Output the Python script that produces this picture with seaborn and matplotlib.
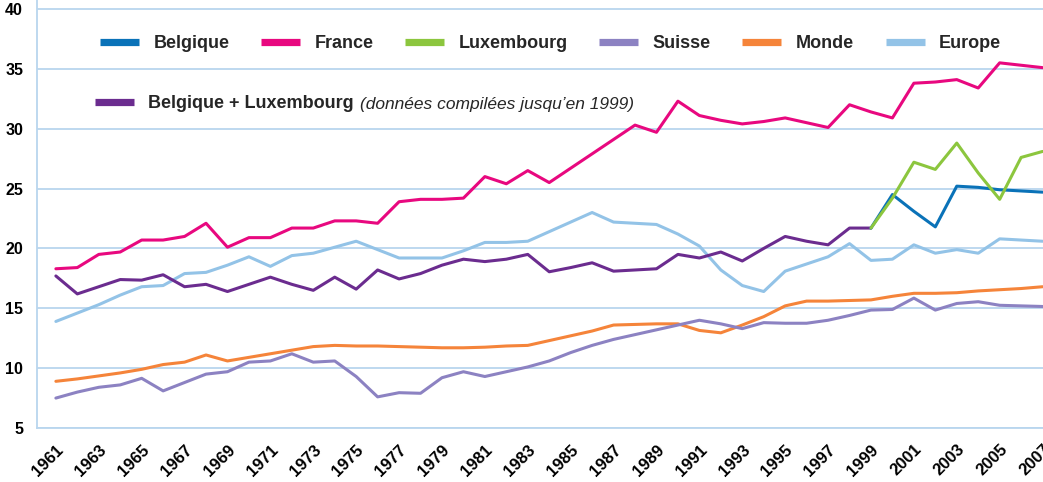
import numpy as np
import pandas as pd
import matplotlib
matplotlib.use("Agg")
import matplotlib.pyplot as plt
import seaborn as sns
from matplotlib.lines import Line2D
from matplotlib.font_manager import FontProperties

# ---------------- data ----------------
years = list(range(1961, 2008))
france = [18.3, 18.4, 19.5, 19.7, 20.7, 20.7, 21.0, 22.1, 20.1, 20.9,
          20.9, 21.7, 21.7, 22.3, 22.3, 22.1, 23.9, 24.1, 24.1, 24.2,
          26.0, 25.4, 26.5, 25.5, 26.7, 27.9, 29.1, 30.3, 29.7, 32.3,
          31.1, 30.7, 30.4, 30.6, 30.9, 30.5, 30.1, 32.0, 31.4, 30.9,
          33.8, 33.9, 34.1, 33.4, 35.5, 35.3, 35.1]
europe = [13.9, 14.6, 15.3, 16.1, 16.8, 16.9, 17.9, 18.0, 18.6, 19.3,
          18.5, 19.4, 19.6, 20.1, 20.6, 19.9, 19.2, 19.2, 19.2, 19.8,
          20.5, 20.5, 20.6, 21.4, 22.2, 23.0, 22.2, 22.1, 22.0, 21.2,
          20.2, 18.2, 16.9, 16.4, 18.1, 18.7, 19.3, 20.4, 19.0, 19.1,
          20.3, 19.6, 19.9, 19.6, 20.8, 20.7, 20.6]
monde = [8.9, 9.1, 9.35, 9.6, 9.9, 10.3, 10.5, 11.1, 10.6, 10.9,
         11.2, 11.5, 11.8, 11.9, 11.85, 11.85, 11.8, 11.75, 11.7, 11.7,
         11.75, 11.85, 11.9, 12.3, 12.7, 13.1, 13.6, 13.65, 13.7, 13.7,
         13.15, 12.95, 13.6, 14.3, 15.2, 15.6, 15.6, 15.65, 15.7, 16.0,
         16.25, 16.25, 16.3, 16.45, 16.55, 16.65, 16.8]
suisse = [7.5, 8.0, 8.4, 8.6, 9.15, 8.1, 8.8, 9.5, 9.7, 10.5,
          10.6, 11.2, 10.5, 10.6, 9.3, 7.6, 7.95, 7.9, 9.2, 9.7,
          9.3, 9.7, 10.1, 10.6, 11.3, 11.9, 12.4, 12.8, 13.2, 13.6,
          14.0, 13.7, 13.3, 13.8, 13.75, 13.75, 14.0, 14.4, 14.85, 14.9,
          15.85, 14.85, 15.4, 15.55, 15.25, 15.2, 15.15]
belg_lux_years = list(range(1961, 2000))
belg_lux = [17.7, 16.2, 16.8, 17.4, 17.35, 17.8, 16.8, 17.0, 16.4, 17.0,
            17.6, 17.0, 16.5, 17.6, 16.6, 18.2, 17.45, 17.9, 18.6, 19.1,
            18.9, 19.1, 19.5, 18.05, 18.4, 18.8, 18.1, 18.2, 18.3, 19.5,
            19.2, 19.7, 18.95, 20.0, 21.0, 20.6, 20.3, 21.7, 21.7]
recent_years = list(range(1999, 2008))
belgique = [21.7, 24.5, 23.1, 21.8, 25.2, 25.1, 24.9, 24.8, 24.7]
luxembourg = [21.7, 24.2, 27.2, 26.6, 28.8, 26.3, 24.1, 27.6, 28.1]

tick_years = list(range(1961, 2008, 2))
yticks = [5, 10, 15, 20, 25, 30, 35, 40]

legend_row1 = ["Belgique", "France", "Luxembourg", "Suisse", "Monde", "Europe"]
legend_row2 = "Belgique + Luxembourg"
legend_note = "(données compilées jusqu’en 1999)"

colors = {
    "Belgique": "#0a72b8",
    "France": "#e8087f",
    "Luxembourg": "#8cc63e",
    "Suisse": "#8c82c2",
    "Monde": "#f5843a",
    "Europe": "#93c3e7",
    "Belgique + Luxembourg": "#6b2c8f",
}

frames = []
for name, yrs, vals in [
    ("Europe", years, europe),
    ("Monde", years, monde),
    ("Suisse", years, suisse),
    ("Belgique + Luxembourg", belg_lux_years, belg_lux),
    ("France", years, france),
    ("Belgique", recent_years, belgique),
    ("Luxembourg", recent_years, luxembourg),
]:
    frames.append(pd.DataFrame({"Année": yrs, "Valeur": vals, "Série": name}))
df = pd.concat(frames, ignore_index=True)
hue_order = ["Europe", "Monde", "Suisse", "Belgique + Luxembourg", "France",
             "Belgique", "Luxembourg"]

# ---------------- figure ----------------
sns.set_theme(style="white")
fam = ["Liberation Sans", "DejaVu Sans"]
plt.rcParams["font.family"] = fam

W, H = 1043, 482
grid_col = "#b9d6ee"
fig = plt.figure(figsize=(W / 100, H / 100), dpi=100)
ax = fig.add_axes([37 / W, 54 / H, 1 - 37 / W, 1 - 54 / H])

sns.lineplot(data=df, x="Année", y="Valeur", hue="Série", hue_order=hue_order,
             palette=colors, linewidth=2.2, estimator=None, legend=False,
             ax=ax, zorder=3)

ax.set_xlim(1960.12, 2007.02)
ax.set_ylim(5, 40.75)
ax.set_yticks(yticks)
ax.set_yticklabels([str(v) for v in yticks], fontweight="bold", fontsize=11.5)
ax.set_xticks(tick_years)
ax.set_xticklabels([str(y) for y in tick_years], rotation=45, ha="right",
                   rotation_mode="anchor", fontweight="bold", fontsize=12)
ax.tick_params(axis="both", length=0, colors="black")
ax.tick_params(axis="y", pad=10)
ax.tick_params(axis="x", pad=10)
ax.set_xlabel("")
ax.set_ylabel("")
ax.grid(axis="y", color=grid_col, linewidth=1.3)
ax.grid(axis="x", visible=False)
for s in ["top", "right"]:
    ax.spines[s].set_visible(False)
for s in ["left", "bottom"]:
    ax.spines[s].set_color(grid_col)
    ax.spines[s].set_linewidth(1.3)

# ---------------- legends ----------------
lprop = FontProperties(family=fam, weight="bold", size=13)
h1 = [Line2D([0], [0], color=colors[n], lw=5.2, solid_capstyle="butt")
      for n in legend_row1]
fig.legend(h1, legend_row1, loc="center left",
           bbox_to_anchor=(100 / W, 1 - 44 / H), ncol=6, frameon=False,
           handlelength=2.16, handletextpad=0.8, columnspacing=1.75,
           borderpad=0, borderaxespad=0, prop=lprop)
h2 = [Line2D([0], [0], color=colors[legend_row2], lw=5.2, solid_capstyle="butt")]
leg2 = fig.legend(h2, [legend_row2], loc="center left",
                  bbox_to_anchor=(95 / W, 1 - 104 / H), frameon=False,
                  handlelength=2.16, handletextpad=0.75,
                  borderpad=0, borderaxespad=0, prop=lprop)

fig.canvas.draw()
bb = leg2.get_texts()[0].get_window_extent(fig.canvas.get_renderer())
fig.text((bb.x1 + 7) / W, (bb.y0 + bb.y1) / 2 / H, legend_note,
         ha="left", va="center", fontsize=12.5, fontstyle="italic")

fig.savefig("out.png", dpi=100)
